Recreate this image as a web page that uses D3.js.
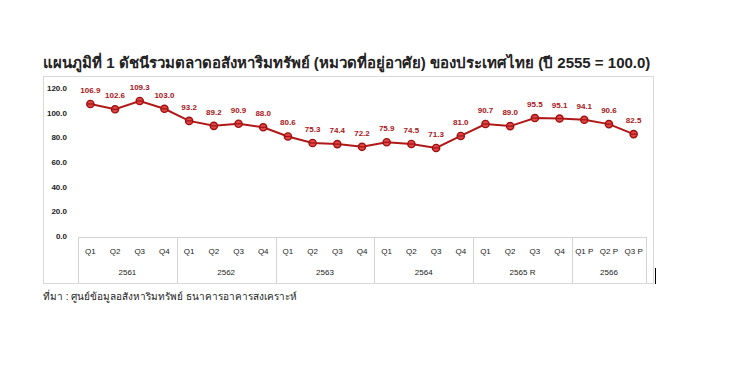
<!DOCTYPE html>
<html>
<head>
<meta charset="utf-8">
<script src="https://cdn.jsdelivr.net/npm/d3@7"></script>
<style>
	body { margin: 0; background: #fff; }
	svg { display: block; }
</style>
</head>
<body>
<div id="chart"></div>
<script>
// Dados
var years = ["2561", "2562", "2563", "2564", "2565 R", "2566"];
var quarters = [
	["Q1", "Q2", "Q3", "Q4"],
	["Q1", "Q2", "Q3", "Q4"],
	["Q1", "Q2", "Q3", "Q4"],
	["Q1", "Q2", "Q3", "Q4"],
	["Q1", "Q2", "Q3", "Q4"],
	["Q1 P", "Q2 P", "Q3 P"]
];
var values = [
	106.9, 102.6, 109.3, 103.0,
	93.2, 89.2, 90.9, 88.0,
	80.6, 75.3, 74.4, 72.2,
	75.9, 74.5, 71.3, 81.0,
	90.7, 89.0, 95.5, 95.1,
	94.1, 90.6, 82.5
];
var yTicks = [0, 20, 40, 60, 80, 100, 120];
var title = "แผนภูมิที่ 1 ดัชนีรวมตลาดอสังหาริมทรัพย์ (หมวดที่อยู่อาศัย) ของประเทศไทย (ปี 2555 = 100.0)";
var source = "ที่มา : ศูนย์ข้อมูลอสังหาริมทรัพย์ ธนาคารอาคารสงเคราะห์";

// Monta as categorias
var cats = [];
var groups = [];
quarters.forEach(function(qs, gi) {
	var start = cats.length;
	qs.forEach(function(q, qi) {
		cats.push({ id: gi + "-" + qi, label: q, value: values[cats.length] });
	});
	groups.push({ label: years[gi], start: start, end: cats.length - 1 });
});

var W = 740, H = 391;
var svg = d3.select("#chart").append("svg")
	.attr("width", W)
	.attr("height", H);

var font = "'Liberation Sans', Arial, sans-serif";

// Titulo
svg.append("text")
	.attr("x", 43)
	.attr("y", 68)
	.style("font-family", font)
	.style("font-size", "15px")
	.style("font-weight", "bold")
	.style("fill", "#222")
	.text(title);

// Moldura
svg.append("rect")
	.attr("x", 43.5)
	.attr("y", 76.5)
	.attr("width", 610)
	.attr("height", 207)
	.style("fill", "none")
	.style("stroke", "#d9d9d9");

// Escalas
var x = d3.scaleBand()
	.domain(cats.map(function(d) { return d.id; }))
	.range([78, 646]);
var y = d3.scaleLinear()
	.domain([0, 120])
	.range([236, 87.8]);

// Eixo Y (somente rotulos)
var yAxis = svg.append("g")
	.attr("transform", "translate(67,0)")
	.call(d3.axisLeft(y).tickValues(yTicks).tickSize(0).tickPadding(0).tickFormat(d3.format(".1f")));
yAxis.select(".domain").remove();
yAxis.selectAll("text")
	.style("font-family", font)
	.style("font-size", "8px")
	.style("font-weight", "bold")
	.style("fill", "#222");

// Caixa das categorias
var gridColor = "#d4d4d4";
svg.append("line")
	.attr("x1", x.range()[0]).attr("x2", x.range()[1])
	.attr("y1", 237.5).attr("y2", 237.5)
	.style("stroke", gridColor);
var bounds = groups.map(function(g) { return x(cats[g.start].id); });
bounds.push(x.range()[1]);
svg.selectAll(".divider")
	.data(bounds)
	.enter().append("line")
	.attr("class", "divider")
	.attr("x1", function(d) { return Math.round(d) + 0.5; })
	.attr("x2", function(d) { return Math.round(d) + 0.5; })
	.attr("y1", 237)
	.attr("y2", 283)
	.style("stroke", gridColor);

// Rotulos de trimestre
svg.selectAll(".qlabel")
	.data(cats)
	.enter().append("text")
	.attr("class", "qlabel")
	.attr("x", function(d) { return x(d.id) + x.bandwidth() / 2; })
	.attr("y", 254)
	.attr("text-anchor", "middle")
	.style("font-family", font)
	.style("font-size", "8px")
	.style("fill", "#222")
	.text(function(d) { return d.label; });

// Rotulos de ano
svg.selectAll(".ylabel")
	.data(groups)
	.enter().append("text")
	.attr("class", "ylabel")
	.attr("x", function(d) { return (x(cats[d.start].id) + x(cats[d.end].id) + x.bandwidth()) / 2; })
	.attr("y", 275)
	.attr("text-anchor", "middle")
	.style("font-family", font)
	.style("font-size", "8px")
	.style("fill", "#222")
	.text(function(d) { return d.label; });

// Linha
var lineColor = "#b01818";
var line = d3.line()
	.x(function(d) { return x(d.id) + x.bandwidth() / 2; })
	.y(function(d) { return y(d.value); });
svg.append("path")
	.datum(cats)
	.attr("d", line)
	.style("fill", "none")
	.style("stroke", lineColor)
	.style("stroke-width", 2);

// Marcadores
svg.selectAll(".pt")
	.data(cats)
	.enter().append("circle")
	.attr("class", "pt")
	.attr("cx", function(d) { return x(d.id) + x.bandwidth() / 2; })
	.attr("cy", function(d) { return y(d.value); })
	.attr("r", 3.6)
	.style("fill", "#e04848")
	.style("stroke", "#a01010")
	.style("stroke-width", 1.4);
svg.selectAll(".ptline")
	.data(cats)
	.enter().append("line")
	.attr("class", "ptline")
	.attr("x1", function(d) { return x(d.id) + x.bandwidth() / 2 - 3; })
	.attr("x2", function(d) { return x(d.id) + x.bandwidth() / 2 + 3; })
	.attr("y1", function(d) { return y(d.value); })
	.attr("y2", function(d) { return y(d.value); })
	.style("stroke", "#a01010")
	.style("stroke-width", 1.2);

// Rotulos de valores
svg.selectAll(".vlabel")
	.data(cats)
	.enter().append("text")
	.attr("class", "vlabel")
	.attr("x", function(d) { return x(d.id) + x.bandwidth() / 2; })
	.attr("y", function(d) { return y(d.value) - 11; })
	.attr("text-anchor", "middle")
	.style("font-family", font)
	.style("font-size", "8px")
	.style("font-weight", "bold")
	.style("fill", "#a81620")
	.text(function(d) { return d.value.toFixed(1); });

// Marca preta no canto
svg.append("line")
	.attr("x1", 655.5).attr("x2", 655.5)
	.attr("y1", 268).attr("y2", 284)
	.style("stroke", "#000")
	.style("stroke-width", 1);

// Fonte
svg.append("text")
	.attr("x", 43)
	.attr("y", 300)
	.style("font-family", font)
	.style("font-size", "10px")
	.style("fill", "#222")
	.text(source);
</script>
</body>
</html>
